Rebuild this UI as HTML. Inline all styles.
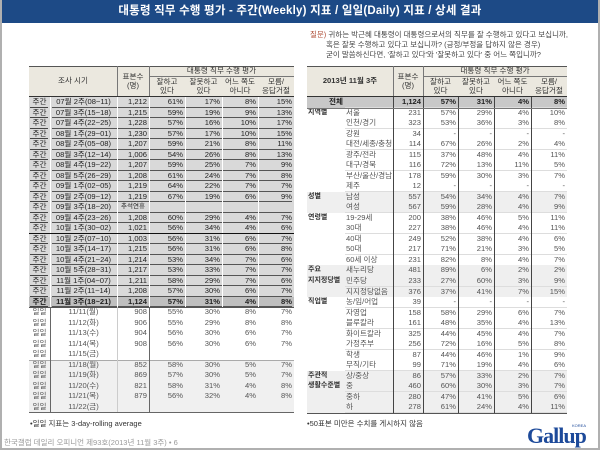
<!DOCTYPE html>
<html><head><meta charset="utf-8">
<style>
*{margin:0;padding:0;box-sizing:border-box}
body{width:600px;height:450px;overflow:hidden;background:#fff;font-family:"Liberation Sans","Noto Sans CJK KR",sans-serif;position:relative;color:#333}
#frame{position:absolute;left:0;top:0;width:600px;height:450px;border:2px solid #b0b0b0;border-top:none}
#title{position:absolute;left:0;top:0;width:600px;height:23px;background:#1d4a86;color:#fff;font-weight:bold;font-size:11.5px;line-height:23px;text-align:center;letter-spacing:0.2px}
.q{position:absolute;font-size:7.5px;color:#444;white-space:nowrap}
.c{position:absolute;font-size:7.6px;line-height:10px;white-space:nowrap;overflow:hidden}
.r{text-align:right;padding-right:2px}
.ctr{text-align:center}
.hd{position:absolute;background:#ebe8df;font-size:7.6px;line-height:9px;text-align:center;color:#333}
</style></head><body>
<div id="title">대통령 직무 수행 평가 - 주간(Weekly) 지표 / 일일(Daily) 지표 / 상세 결과</div>

<div class="q" style="left:310px;top:29px"><span style="color:#b0503a">질문)</span> 귀하는 박근혜 대통령이 대통령으로서의 직무를 잘 수행하고 있다고 보십니까,</div>
<div class="q" style="left:326px;top:39px">혹은 잘못 수행하고 있다고 보십니까? (긍정/부정을 답하지 않은 경우)</div>
<div class="q" style="left:326px;top:49px">굳이 말씀하신다면, '잘하고 있다'와 '잘못하고 있다' 중 어느 쪽입니까?</div>

<div id="left"></div>
<div id="right"></div>

<div class="q" style="left:30px;top:418px;color:#333">•일일 지표는 3-day-rolling average</div>
<div class="q" style="left:307px;top:418px;color:#333">•50표본 미만은 수치를 게시하지 않음</div>
<div class="q" style="left:4px;top:437px;color:#999">한국갤럽 데일리 오피니언 제93호(2013년 11월 3주) • 6</div>
<div style="position:absolute;left:527px;top:423px;font-size:22px;font-weight:bold;color:#1d4a9a;font-family:'Liberation Serif',serif;letter-spacing:-1px">Gallup</div>
<div style="position:absolute;left:572px;top:423px;font-size:4px;color:#1d4a9a">KOREA</div>
<div id="frame"></div>

<script>
const leftLabels=["주간","주간","주간","주간","주간","주간","주간","주간","주간","주간","주간","주간","주간","주간","주간","주간","주간","주간","주간","주간","일일","일일","일일","일일","일일","일일","일일","일일","일일","일일"];
const leftPeriods=["07월 2주(08~11)","07월 3주(15~18)","07월 4주(22~25)","08월 1주(29~01)","08월 2주(05~08)","08월 3주(12~14)","08월 4주(19~22)","08월 5주(26~29)","09월 1주(02~05)","09월 2주(09~12)","09월 3주(18~20)","09월 4주(23~26)","10월 1주(30~02)","10월 2주(07~10)","10월 3주(14~17)","10월 4주(21~24)","10월 5주(28~31)","11월 1주(04~07)","11월 2주(11~14)","11월 3주(18~21)","11/11(월)","11/12(화)","11/13(수)","11/14(목)","11/15(금)","11/18(월)","11/19(화)","11/20(수)","11/21(목)","11/22(금)"];
const leftN=["1,212","1,215","1,228","1,230","1,207","1,006","1,207","1,208","1,219","1,219","추석연휴","1,208","1,021","1,003","1,215","1,214","1,217","1,211","1,208","1,124","908","906","904","908","","852","869","821","879",""];
const leftGood=["61%","59%","57%","57%","59%","54%","59%","61%","64%","67%","","60%","56%","56%","56%","53%","53%","58%","57%","57%","55%","55%","56%","56%","","58%","57%","58%","56%",""];
const leftBad=["17%","19%","16%","17%","21%","26%","25%","24%","22%","19%","","29%","34%","31%","31%","34%","33%","29%","30%","31%","30%","29%","30%","30%","","30%","30%","31%","32%",""];
const leftNeither=["8%","9%","10%","10%","8%","8%","7%","7%","7%","6%","","4%","4%","6%","6%","7%","7%","7%","6%","4%","8%","8%","6%","6%","","5%","5%","4%","4%",""];
const leftDk=["15%","13%","17%","15%","11%","13%","9%","8%","7%","9%","","7%","6%","7%","8%","6%","7%","6%","7%","8%","7%","8%","7%","7%","","7%","7%","8%","8%",""];

const rightGroups=["","지역별","","","","","","","","성별","","연령별","","","","","주요","지지정당별","","직업별","","","","","","","주관적","생활수준별","",""];
const rightItems=["전체","서울","인천/경기","강원","대전/세종/충청","광주/전라","대구/경북","부산/울산/경남","제주","남성","여성","19-29세","30대","40대","50대","60세 이상","새누리당","민주당","지지정당없음","농/임/어업","자영업","블루칼라","화이트칼라","가정주부","학생","무직/기타","상/중상","중","중하","하"];
const rightN=["1,124","231","323","34","114","115","116","178","12","557","567","200","227","249","217","231","481","233","376","39","158","161","325","256","87","99","86","460","280","278"];
const rightGood=["57%","57%","53%","-","67%","37%","72%","59%","-","54%","59%","38%","38%","52%","71%","82%","89%","27%","37%","-","58%","48%","44%","72%","44%","71%","57%","60%","47%","61%"];
const rightBad=["31%","29%","36%","-","26%","48%","13%","30%","-","34%","28%","46%","46%","38%","21%","8%","6%","60%","41%","-","29%","35%","45%","16%","46%","19%","33%","30%","41%","24%"];
const rightNeither=["4%","4%","3%","-","2%","4%","11%","3%","-","4%","4%","5%","4%","4%","3%","4%","2%","3%","7%","-","6%","4%","4%","5%","1%","4%","2%","3%","5%","4%"];
const rightDk=["8%","10%","8%","-","4%","11%","5%","7%","-","7%","9%","11%","11%","6%","5%","7%","2%","9%","15%","-","7%","13%","7%","8%","9%","6%","7%","7%","6%","11%"];
const rightShade=[2,0,0,0,0,0,0,0,0,1,1,0,0,0,0,0,1,1,1,0,0,0,0,0,0,0,1,1,1,1];

function cell(parent,x,y,w,h,txt,cls,extra){
  const d=document.createElement('div');
  d.className='c '+cls;
  d.style.left=x+'px';d.style.top=y+'px';d.style.width=w+'px';d.style.height=h+'px';d.style.lineHeight=h+'px';
  if(extra)Object.assign(d.style,extra);
  d.textContent=txt;
  parent.appendChild(d);
  return d;
}
function box(parent,x,y,w,h,bg){
  const d=document.createElement('div');
  d.style.position='absolute';
  d.style.left=x+'px';d.style.top=y+'px';d.style.width=w+'px';d.style.height=h+'px';d.style.background=bg;
  parent.appendChild(d);return d;
}
function header(parent,x0,cols,firstTxt,firstW){
  const hd=box(parent,x0,66,cols.reduce((a,b)=>a+b,0),30,'#ebe8df');
  
  
  const xs=[x0];cols.forEach(w=>xs.push(xs[xs.length-1]+w));
  const t=cell(parent,x0,66,firstW,30,firstTxt,'ctr',{fontWeight:firstTxt.indexOf('2013')>=0?'bold':'normal'});
  
  
  const ni=cols.length-5;
  const n=document.createElement('div');n.className='hd';n.style.left=xs[ni]+'px';n.style.top='72px';n.style.width=cols[ni]+'px';n.style.background='none';n.innerHTML='표본수<br>(명)';
  
  
  parent.appendChild(n);
  const g=cell(parent,xs[ni+1],66,xs[xs.length-1]-xs[ni+1],10,'대통령 직무 수행 평가','ctr');
  
  
  const subs=['잘하고<br>있다','잘못하고<br>있다','어느 쪽도<br>아니다','모름/<br>응답거절'];
  for(let i=0;i<4;i++){
    const s=document.createElement('div');s.className='hd';s.style.background='none';
    s.style.left=xs[ni+1+i]+'px';s.style.top='77px';s.style.width=cols[ni+1+i]+'px';s.innerHTML=subs[i];
    
    
    parent.appendChild(s);
  }
  box(parent,xs[ni+1],76,xs[xs.length-1]-xs[ni+1],1,'#777');
  box(parent,x0,66,xs[xs.length-1]-x0,1,'#555');
  box(parent,x0,96,xs[xs.length-1]-x0,1,'#333');
  return xs;
}

// LEFT TABLE
const L=document.getElementById('left');
const lcols=[21,67,32,36,37,36,36];
const lx=header(L,29,lcols,'조사 시기',88);
box(L,lx[2],66,1,30,'#777');box(L,lx[3],66,1,30,'#777');
const RH=10.5;
for(let i=0;i<leftLabels.length;i++){
  const y=97+i*RH;
  const weekly=i<20;
  let bg=weekly?'#d9d9d9':(i>=25?'#f0f0f0':'#fff');
  if(i===19)bg='#bfbfbf';
  const r=box(L,29,y,265,RH,bg);
  
  
  const bold=i===19?{fontWeight:'bold',color:'#222'}:(weekly?{color:'#222'}:{color:'#555'});
  cell(L,lx[0],y,lcols[0],RH,leftLabels[i],'ctr',bold);
  cell(L,lx[1],y,lcols[1],RH,leftPeriods[i],'ctr',bold);
  cell(L,lx[2],y,lcols[2],RH,leftN[i],leftN[i]==='추석연휴'?'ctr':'r',Object.assign({},bold,leftN[i]==='추석연휴'?{fontSize:'6.5px'}:{}));
  cell(L,lx[3],y,lcols[3],RH,leftGood[i],'r',bold);
  cell(L,lx[4],y,lcols[4],RH,leftBad[i],'r',bold);
  cell(L,lx[5],y,lcols[5],RH,leftNeither[i],'r',bold);
  cell(L,lx[6],y,lcols[6],RH,leftDk[i],'r',bold);
  if(weekly){
    box(L,lx[0]+1,y+RH-1,lcols[0]-3,1,'#444');
    box(L,lx[1]+2,y+RH-1,265-lcols[0]-4,1,'#555');
    for(let k=1;k<7;k++)box(L,lx[k],y,1,RH,'#fff');
  }
  if(i===12)box(L,29,y+RH-1,265,1.5,'#111');
}
const lend=97+30*RH;
box(L,29,97+20*RH,265,1,'#555');
box(L,29,97+25*RH,265,1,'#aaa');
box(L,lx[1],97+20*RH,1,10*RH,'#666');
box(L,lx[3],97+20*RH,1,10*RH,'#666');
box(L,lx[2],97+20*RH,1,10*RH,'#ccc');
box(L,29,lend,265,1,'#666');

// RIGHT TABLE
const R=document.getElementById('right');
const rcols=[38,48,30,35,36,37,36];
const rx=header(R,307,rcols,'2013년 11월 3주',86);
box(R,rx[2],66,1,30,'#777');box(R,rx[3],66,1,30,'#777');
const RR=10.53;
for(let i=0;i<rightItems.length;i++){
  const y=97+i*RR;
  const bg=rightShade[i]===2?'#c8c8c8':(rightShade[i]===1?'#efefef':'#fff');
  const r=box(R,307,y,260,RR,bg);
  
  
  const st=i===0?{fontWeight:'bold',color:'#222'}:{color:'#555'};
  cell(R,rx[0]+1,y,rcols[0]+4,RR,rightGroups[i],'',{fontWeight:'bold',color:'#333',fontSize:'7px'});
  cell(R,i===0?rx[0]+22:rx[1]+1,y,rcols[1]-1,RR,rightItems[i],'',st);
  cell(R,rx[2],y,rcols[2],RR,rightN[i],'r',st);
  cell(R,rx[3],y,rcols[3],RR,rightGood[i],'r',st);
  cell(R,rx[4],y,rcols[4],RR,rightBad[i],'r',st);
  cell(R,rx[5],y,rcols[5],RR,rightNeither[i],'r',st);
  cell(R,rx[6],y,rcols[6],RR,rightDk[i],'r',st);
  box(R,rx[1],y+RR-0.5,260-rcols[0],0.5,'#ddd');
}
const rend=97+30*RR;
box(R,rx[2],97+RR,1,29*RR,'#999');
for(let k=3;k<7;k++)box(R,rx[k],97,1,30*RR,'#444');
box(R,rx[2],97,1,30*RR,'#444');
box(R,307,97+RR,260,1,'#777');
box(R,307,rend,260,1,'#555');
</script>
</body></html>
